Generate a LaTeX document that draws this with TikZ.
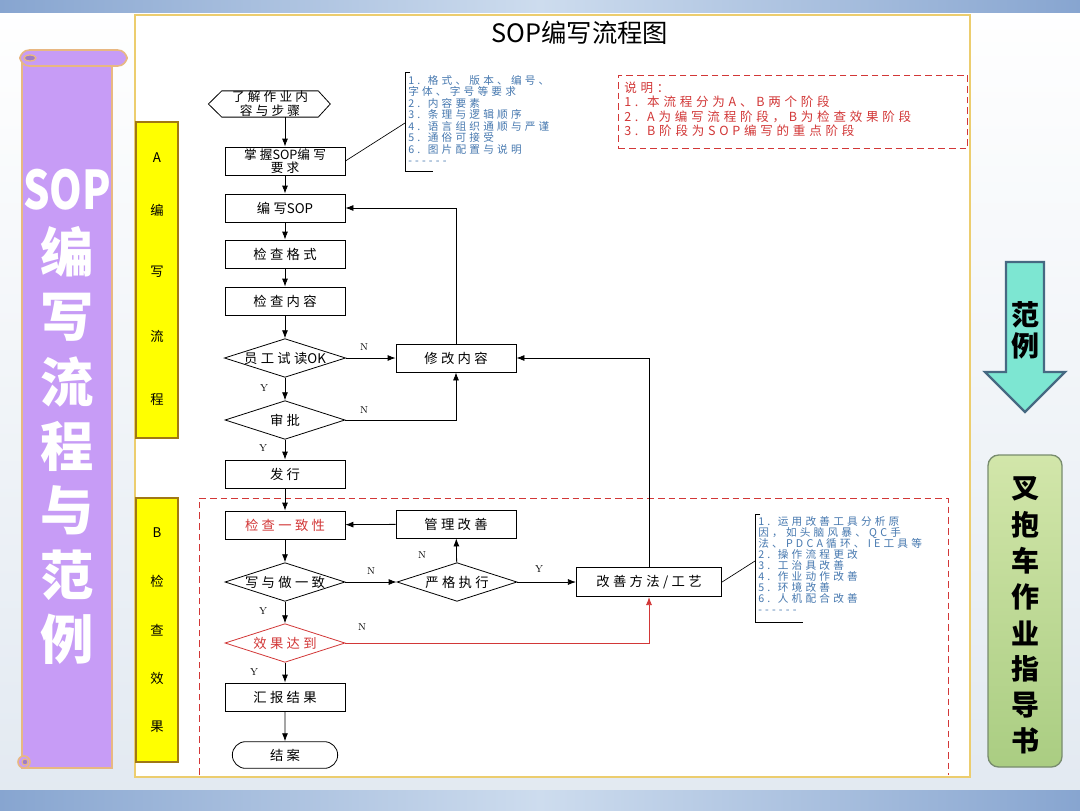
\documentclass[tikz,border=0pt]{standalone}
\usepackage{fontspec}
\newfontfamily\cjk{Noto Sans CJK SC}
\newfontfamily\cjksp{Noto Sans CJK SC}[LetterSpace=25]
\newfontfamily\cjkn{Noto Sans CJK SC}[LetterSpace=30]
\newcommand\latn[1]{{\cjk #1}}
\usetikzlibrary{shapes.geometric,shapes.misc,arrows.meta,calc}
\definecolor{bgblue}{RGB}{226,233,241}
\definecolor{band}{RGB}{135,165,208}
\definecolor{bandl}{RGB}{205,220,238}
\definecolor{panelb}{RGB}{236,205,110}
\definecolor{scrollp}{RGB}{199,156,246}
\definecolor{scrollb}{RGB}{232,184,130}
\definecolor{ybar}{RGB}{255,255,0}
\definecolor{ybarb}{RGB}{160,120,20}
\definecolor{notetext}{RGB}{70,120,175}
\definecolor{redc}{RGB}{210,55,55}
\definecolor{arrowc}{RGB}{125,230,210}
\definecolor{arrowb}{RGB}{70,105,130}
\definecolor{greenl}{RGB}{210,230,170}
\definecolor{greend}{RGB}{170,205,130}
\definecolor{greenb}{RGB}{120,140,110}
\tikzset{
  box/.style={draw, line width=0.6pt, minimum width=90pt, minimum height=21pt, inner sep=0pt, font=\cjksp\fontsize{10}{11}\selectfont, align=center},
  dia/.style={draw, diamond, aspect=3.2, minimum width=90pt, minimum height=29pt, inner sep=0pt, line width=0.6pt, font=\cjksp\fontsize{10}{11}\selectfont},
  arr/.style={-{Latex[length=6pt,width=4.5pt]}, line width=0.6pt},
  yn/.style={font=\fontsize{7.5}{8}\selectfont},
  notetxt/.style={anchor=north west, inner sep=0pt, align=left, text=notetext, font=\cjkn\fontsize{8}{8.6}\selectfont},
  ybox/.style={draw=ybarb, fill=ybar, line width=0.8pt},
  ychar/.style={font=\cjk\fontsize{10}{11}\selectfont},
  scrollchar/.style={text=white, font=\cjk\bfseries\fontsize{40}{42}\selectfont},
  sidechar/.style={text=black, font=\cjk\bfseries\fontsize{21}{22}\selectfont}
}
\begin{document}
\begin{tikzpicture}[x=0.75pt,y=-0.75pt]
\useasboundingbox (0,0) rectangle (1080,810);
% background
\shade[top color=white, bottom color=bgblue] (0,0) rectangle (1080,810);
\shade[left color=band, right color=band, middle color=bandl] (0,0) rectangle (1080,12);
\shade[left color=band, right color=band, middle color=bandl] (0,790) rectangle (1080,810);
% main panel
\draw[panelb, line width=1.5pt, fill=white] (135,15) rectangle (970,777);
% left scroll
\draw[scrollb, line width=1.2pt, fill=scrollp] (22,58) rectangle (112,768);
\draw[scrollb, line width=1.2pt, fill=scrollp, rounded corners=7pt] (20,50) rectangle (127,66);
\draw[scrollb, line width=1pt, fill=scrollp!80!black] (30,58) ellipse (6 and 3);
\draw[scrollb, line width=1.2pt, fill=scrollp] (24,762) circle (6);
\draw[scrollb, line width=0.8pt, fill=scrollp!80!black] (25,762) circle (3);
\node[scrollchar] at (67,190) {\scalebox{0.78}[1]{SOP}};
\node[scrollchar] at (67,252) {编};
\node[scrollchar] at (67,317) {写};
\node[scrollchar] at (67,382) {流};
\node[scrollchar] at (67,446) {程};
\node[scrollchar] at (67,510) {与};
\node[scrollchar] at (67,575) {范};
\node[scrollchar] at (67,639) {例};
% right arrow
\draw[arrowb, line width=1.8pt, fill=arrowc] (1006,262) -- (1044,262) -- (1044,372) -- (1065,372) -- (1025,412) -- (985,372) -- (1006,372) -- cycle;
\node[sidechar] at (1025,315) {范};
\node[sidechar] at (1025,346) {例};
% green box
\shade[top color=greenl, bottom color=greend, rounded corners=8pt] (988,455) rectangle (1062,767);
\draw[greenb, line width=1pt, rounded corners=8pt] (988,455) rectangle (1062,767);
\node[sidechar] at (1025,489) {叉};
\node[sidechar] at (1025,525) {抱};
\node[sidechar] at (1025,561) {车};
\node[sidechar] at (1025,597) {作};
\node[sidechar] at (1025,633) {业};
\node[sidechar] at (1025,669) {指};
\node[sidechar] at (1025,705) {导};
\node[sidechar] at (1025,741) {书};
% title
\node[font=\cjk\fontsize{19}{20}\selectfont] (title) at (580,33) {SOP编写流程图};
% yellow bars
\draw[ybox] (136,122) rectangle (178,438);
\node[ychar] at (157,158) {A};
\node[ychar] at (157,210) {编};
\node[ychar] at (157,272) {写};
\node[ychar] at (157,336) {流};
\node[ychar] at (157,400) {程};
\draw[ybox] (136,498) rectangle (178,762);
\node[ychar] at (157,533) {B};
\node[ychar] at (157,581) {检};
\node[ychar] at (157,630) {查};
\node[ychar] at (157,678) {效};
\node[ychar] at (157,727) {果};
% B dashed area
\draw[redc, line width=0.6pt, dash pattern=on 5pt off 3pt] (199,775) -- (199,498) -- (948,498) -- (948,775);
% explanation note
\node[draw=redc, dash pattern=on 5pt off 3pt, line width=0.6pt, minimum width=262pt, minimum height=55pt] (expl) at (793,112) {};
\node[anchor=north west, inner sep=0pt, align=left, text=redc, font=\cjkn\fontsize{9.4}{10.6}\selectfont] (expltxt) at (624,82) {说明：\\1. 本流程分为A、B两个阶段\\2. A为编写流程阶段，B为检查效果阶段\\3. B阶段为SOP编写的重点阶段};
% flow nodes
\node[minimum width=72pt, minimum height=19pt, inner sep=0pt, align=center, font=\cjksp\fontsize{9.5}{10.5}\selectfont] (start) at (270,104) {了解作业内\\容与步骤};
\draw[line width=0.6pt] (start.north west) -- (start.north east) -- ([xshift=9pt]start.east) -- (start.south east) -- (start.south west) -- ([xshift=-10pt]start.west) -- cycle;
\node[box, font=\cjksp\fontsize{9.5}{10}\selectfont] (grasp) at (285,161) {掌握\latn{SOP}编写\\要求};
\node[box] (write) at (285,208) {编写\latn{SOP}};
\node[box] (format) at (285,254) {检查格式};
\node[box] (content) at (285,301) {检查内容};
\node[dia] (d1) at (285,358) {员工试读\latn{OK}};
\node[box] (modify) at (456,358) {修改内容};
\node[dia] (approve) at (285,420) {审批};
\node[box] (issue) at (285,474) {发行};
\node[box, text=redc] (check) at (285,525) {检查一致性};
\node[box] (manage) at (456,524) {管理改善};
\node[dia] (consist) at (285,582) {写与做一致};
\node[dia] (strict) at (457,582) {严格执行};
\node[box, minimum width=109pt, minimum height=22pt] (method) at (649,582) {改善方法/工艺};
\node[dia, text=redc, draw=redc] (effect) at (285,643) {效果达到};
\node[box] (report) at (285,697) {汇报结果};
\node[draw, rounded rectangle, line width=0.6pt, minimum width=79pt, minimum height=20pt, inner sep=0pt, font=\cjksp\fontsize{10}{11}\selectfont] (close) at (285,755) {结案};
% connectors
\draw[arr] (grasp.north |- start.south) -- (grasp.north);
\draw[arr] (grasp) -- (write);
\draw[arr] (write) -- (format);
\draw[arr] (format) -- (content);
\draw[arr] (content) -- (d1);
\draw[arr] (d1) -- (modify);
\draw[arr] (d1) -- (approve);
\draw[arr] (approve.east) -| (modify.south);
\draw[arr] (approve) -- (issue);
\draw[arr] (modify.north) |- (write.east);
\draw[arr] (method.north) |- (modify.east);
\draw[arr] (issue) -- (check);
\draw[arr] (manage) -- (check);
\draw[arr] (check) -- (consist);
\draw[arr] (consist) -- (strict);
\draw[arr] (strict) -- (manage);
\draw[arr] (strict) -- (method);
\draw[arr] (consist) -- (effect);
\draw[arr, draw=redc, -{Latex[length=6pt,width=4.5pt,fill=redc]}] (effect.east) -| (method.south);
\draw[arr] (effect) -- (report);
\draw[arr] (report) -- (close);
% Y/N labels
\node[yn] at (364,347) {N};
\node[yn] at (264,388) {Y};
\node[yn] at (364,410) {N};
\node[yn] at (263,448) {Y};
\node[yn] at (422,555) {N};
\node[yn] at (371,571) {N};
\node[yn] at (539,569) {Y};
\node[yn] at (263,611) {Y};
\node[yn] at (362,627) {N};
\node[yn] at (254,672) {Y};
% note 1
\coordinate (n1a) at (405,123);
\draw[line width=0.6pt] (410,72) -- (405,72) -- (405,171) -- (433,171);
\draw[line width=0.5pt] (grasp.east) -- (n1a);
\node[notetxt] (n1) at (408,75) {1. 格式、版本、编号、\\字体、字号等要求\\2. 内容要素\\3. 条理与逻辑顺序\\4. 语言组织通顺与严谨\\5. 通俗可接受\\6. 图片配置与说明\\------};
% note 2
\coordinate (n2a) at (755,561);
\draw[line width=0.6pt] (760,514) -- (755,514) -- (755,622) -- (803,622);
\draw[line width=0.5pt] (method.east) -- (n2a);
\node[notetxt, font=\cjkn\fontsize{8}{8.3}\selectfont] (n2) at (758,516) {1. 运用改善工具分析原\\因，如头脑风暴、QC手\\法、PDCA循环、IE工具等\\2. 操作流程更改\\3. 工治具改善\\4. 作业动作改善\\5. 环境改善\\6. 人机配合改善\\------};
\end{tikzpicture}
\end{document}
